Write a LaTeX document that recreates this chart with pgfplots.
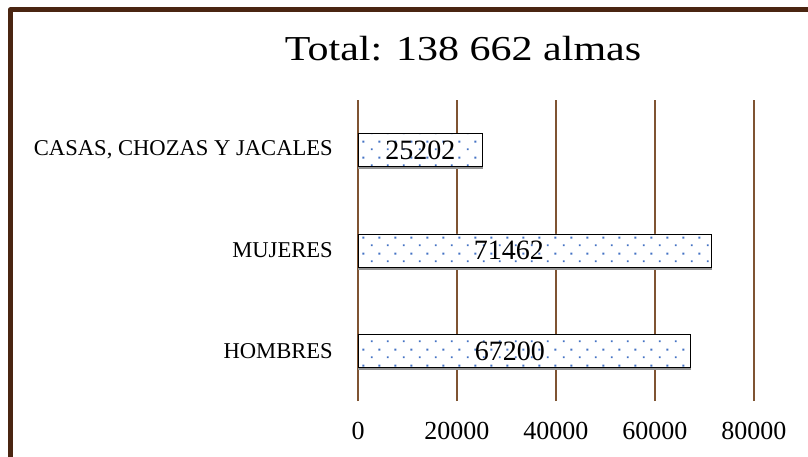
\documentclass[border=0pt]{standalone}
\usepackage{fontspec}
\setmainfont{Liberation Serif}
\newfontfamily\titlefont{Liberation Serif}[FakeStretch=1.2]
\usepackage{pgfplots}
\pgfplotsset{compat=1.18}
\usetikzlibrary{patterns.meta}
\definecolor{framebrown}{HTML}{4A2511}
\definecolor{gridbrown}{HTML}{7F5432}
\definecolor{dotblue}{HTML}{4472C4}
\pgfdeclarepattern{name=bluedots, type=uncolored,
  bottom left={\pgfpoint{0bp}{0bp}}, top right={\pgfpoint{16bp}{16bp}},
  tile size={\pgfpoint{16bp}{16bp}},
  code={\pgfpathrectangle{\pgfpoint{3bp}{3bp}}{\pgfpoint{2bp}{2bp}}%
        \pgfpathrectangle{\pgfpoint{11bp}{11bp}}{\pgfpoint{2bp}{2bp}}%
        \pgfusepath{fill}}}
\begin{document}
\begin{tikzpicture}
\useasboundingbox (0,0) rectangle (808bp,457bp);
\begin{axis}[
  at={(358bp,56bp)}, anchor=south west,
  scale only axis, width=396bp, height=301bp,
  xmin=0, xmax=80000, ymin=-0.5, ymax=2.5,
  xtick={0,20000,40000,60000,80000},
  scaled x ticks=false,
  /pgf/number format/1000 sep={},
  /pgf/number format/assume math mode=true,
  xticklabel style={font=\fontsize{26bp}{30bp}\selectfont, anchor=center, yshift=-30bp},
  ytick={0,1,2},
  yticklabels={HOMBRES, MUJERES, {CASAS, CHOZAS Y JACALES}},
  yticklabel style={font=\fontsize{22.6bp}{27bp}\selectfont, anchor=east, inner sep=0pt, xshift=-25bp},
  axis line style={draw=none},
  major tick style={draw=none},
  xmajorgrids,
  major grid style={gridbrown, line width=2bp},
  clip=false,
]
\addplot[xbar, bar width=33bp, draw=black, line width=0.8bp, fill=white,
  preaction={fill=gray!85, draw=gray!85, transform canvas={yshift=-2bp}},
  postaction={pattern=bluedots, pattern color=dotblue}]
  coordinates {(67200,0) (71462,1) (25202,2)};
\addplot[draw=none, mark=none, nodes near coords, point meta=explicit symbolic,
  every node near coord/.append style={anchor=center, text=black, font=\fontsize{28bp}{32bp}\selectfont}]
  coordinates {(30700,0)[67200] (30500,1)[71462] (12601,2)[25202]};
\end{axis}
\node[font=\titlefont\fontsize{35bp}{40bp}\selectfont, anchor=base] at (463bp,396bp) {Total: 138 662 almas};
\draw[framebrown, line width=5bp, line join=round] (10bp,-20bp) -- (10bp,447bp) -- (840bp,447bp);
\end{tikzpicture}
\end{document}
